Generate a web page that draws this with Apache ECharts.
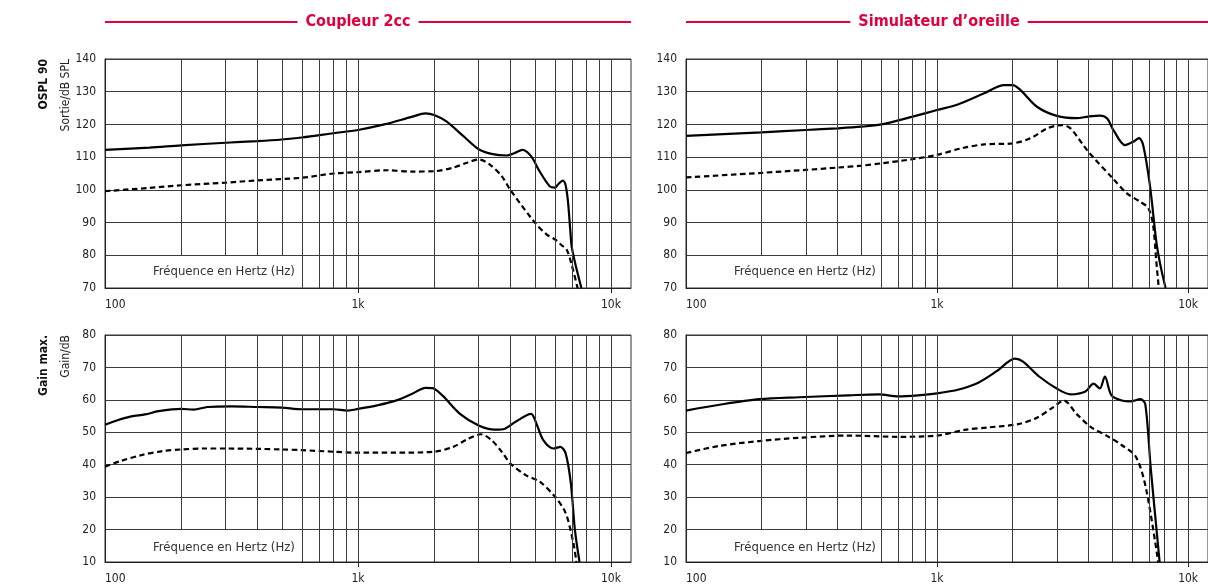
<!DOCTYPE html>
<html>
<head>
<meta charset="utf-8">
<script src="https://cdn.jsdelivr.net/npm/echarts@6/dist/echarts.min.js"></script>
<style>
html, body { margin: 0; padding: 0; background: #fff; }
#chart { width: 1208px; height: 585px; }
</style>
</head>
<body>
<div id="chart"></div>
<script>
// axis ticks / labels
var xTicks = [100, 1000, 10000];
var xTickLabels = ['100', '1k', '10k'];
var gridFreqs = [600, 700, 800, 900, 1000, 2000, 3000, 4000, 5000, 6000, 7000, 8000, 9000, 10000];
var shortGridFreqs = [200, 300, 400, 500];   // these stop above the bottom row
var osplRange = [70, 140];
var gainRange = [10, 80];
var panelTitles = ['Coupleur 2cc', 'Simulateur d\u2019oreille'];
var rowTitles = ['OSPL 90', 'Gain max.'];
var rowUnits = ['Sortie/dB SPL', 'Gain/dB'];
var freqLabel = 'Fr\u00e9quence en Hertz (Hz)';

// Coupleur 2cc - OSPL 90
var couplerOsplSolidF = [100, 150, 200, 300, 400, 500, 600, 800, 1000, 1270, 1630, 1850, 2000, 2230, 2610, 3000, 3370, 3870, 4150, 4470, 4830, 5220, 5740, 6000, 6200, 6450, 6600, 6750, 6900, 7000, 7300, 7640];
var couplerOsplSolid = [112.2, 112.9, 113.6, 114.4, 114.9, 115.4, 116.0, 117.3, 118.3, 120.0, 122.3, 123.4, 122.9, 121.0, 116.4, 112.4, 111.0, 110.5, 111.2, 112.2, 110.3, 105.7, 101.0, 100.7, 101.8, 102.8, 101.8, 97, 88, 82.5, 76, 70];
var couplerOsplDashF = [100, 150, 200, 300, 400, 600, 800, 1000, 1300, 1630, 2000, 2380, 2700, 3000, 3310, 3700, 4000, 5000, 5560, 6000, 6400, 6680, 7000, 7380];
var couplerOsplDash = [99.6, 100.6, 101.4, 102.2, 102.9, 103.7, 105.0, 105.4, 106.0, 105.6, 105.7, 106.8, 108.3, 109.3, 107.8, 104.2, 100.0, 90.0, 86.4, 84.9, 83.0, 81.8, 77, 70];

// Simulateur d'oreille - OSPL 90
var earOsplSolidF = [100, 200, 300, 400, 500, 600, 800, 1000, 1210, 1540, 1850, 2000, 2150, 2500, 3000, 3600, 4000, 4450, 4750, 5040, 5600, 6040, 6380, 6620, 7040, 7470, 7750, 8130];
var earOsplSolid = [116.5, 117.6, 118.3, 118.8, 119.3, 120.0, 122.4, 124.4, 126.1, 129.5, 132.0, 132.0, 130.5, 125.4, 122.6, 121.9, 122.4, 122.7, 121.9, 118.3, 113.7, 114.7, 115.8, 113.7, 101.5, 84.2, 77.1, 70];
var earOsplDashF = [100, 200, 300, 400, 500, 600, 800, 1000, 1250, 1540, 2000, 2360, 2750, 3150, 3400, 4000, 5000, 5690, 6430, 6940, 7250, 7470, 7640];
var earOsplDash = [103.8, 105.2, 106.1, 106.8, 107.4, 108.1, 109.4, 110.7, 112.7, 113.9, 114.2, 115.8, 118.8, 119.8, 118.8, 111.7, 103.6, 99.0, 96.4, 94.4, 89.3, 78.1, 70];

// Coupleur 2cc - Gain max.
var couplerGainSolidF = [100, 112, 127, 144, 163, 200, 224, 254, 317, 400, 500, 600, 800, 910, 1000, 1190, 1390, 1630, 1850, 1970, 2160, 2530, 3000, 3470, 3810, 4190, 4830, 5070, 5400, 5930, 6310, 6620, 6940, 7200, 7510];
var couplerGainSolid = [52.3, 53.7, 54.9, 55.5, 56.5, 57.2, 57.0, 57.8, 58.0, 57.8, 57.6, 57.1, 57.1, 56.7, 57.2, 58.3, 59.6, 61.8, 63.7, 63.6, 61.3, 55.7, 52.1, 50.8, 51.1, 53.2, 55.7, 52.7, 47.6, 45.0, 45.5, 43.5, 34.3, 20, 10];
var couplerGainDashF = [100, 116, 140, 169, 200, 246, 300, 400, 500, 600, 800, 1000, 1390, 2000, 2380, 2700, 3060, 3370, 3700, 4000, 4600, 5220, 6000, 6620, 7100, 7300];
var couplerGainDash = [39.4, 41.2, 43.0, 44.2, 44.7, 45.0, 45.0, 44.9, 44.7, 44.5, 44.0, 43.7, 43.7, 44.0, 45.5, 47.8, 49.4, 47.6, 44.0, 40.4, 36.8, 34.8, 30.2, 25.1, 15.9, 10];

// Simulateur d'oreille - Gain max.
var earGainSolidF = [100, 136, 196, 282, 445, 585, 700, 840, 1000, 1220, 1460, 1740, 2040, 2200, 2550, 3040, 3400, 3900, 4200, 4450, 4660, 4950, 5450, 5900, 6450, 6750, 7100, 7700];
var earGainSolid = [56.7, 58.5, 60.2, 60.8, 61.4, 61.7, 61.1, 61.4, 62.0, 63.2, 65.3, 69.0, 72.7, 71.8, 67.2, 63.2, 61.7, 62.6, 65.0, 63.5, 67.2, 61.4, 59.8, 59.5, 60.2, 58.7, 38.8, 10];
var earGainDashF = [100, 136, 196, 282, 445, 700, 1000, 1300, 1600, 2100, 2500, 2900, 3200, 3600, 4100, 4750, 5450, 6200, 6800, 7600];
var earGainDash = [43.6, 45.8, 47.3, 48.3, 49.0, 48.6, 49.0, 50.8, 51.5, 52.5, 54.5, 57.7, 59.8, 55.6, 51.6, 48.9, 46.0, 42.4, 32.6, 10];

var FONT = '"Liberation Sans Narrow", "DejaVu Sans Condensed", "Open Sans", sans-serif';
var RED = '#e2003c';
var GRID_COLOR = '#3c3c3c';

function pairs(fs, vs) {
    return fs.map(function (f, i) { return [f, vs[i]]; });
}

var panels = [
    { left: 105, top: 59, range: osplRange, solid: pairs(couplerOsplSolidF, couplerOsplSolid), dash: pairs(couplerOsplDashF, couplerOsplDash) },
    { left: 686, top: 59, range: osplRange, solid: pairs(earOsplSolidF, earOsplSolid), dash: pairs(earOsplDashF, earOsplDash) },
    { left: 105, top: 335, range: gainRange, solid: pairs(couplerGainSolidF, couplerGainSolid), dash: pairs(couplerGainDashF, couplerGainDash) },
    { left: 686, top: 335, range: gainRange, solid: pairs(earGainSolidF, earGainSolid), dash: pairs(earGainDashF, earGainDash) }
];
var PW = 526, PH = 229;

var grids = [], xAxes = [], yAxes = [], series = [], graphics = [];

panels.forEach(function (p, i) {
    grids.push({ left: p.left, top: p.top, width: PW, height: PH, show: true, borderColor: '#333', borderWidth: 1, backgroundColor: 'transparent' });
    xAxes.push({
        type: 'log', logBase: 10, min: 100, max: 12000, gridIndex: i,
        axisLine: { show: true, lineStyle: { color: '#222', width: 1 } },
        axisTick: { show: true, customValues: [1000, 10000], length: 5, lineStyle: { color: '#222' } },
        axisLabel: {
            customValues: xTicks, margin: 11, fontSize: 12, color: '#222', fontFamily: FONT,
            alignMinLabel: 'left',
            formatter: function (v) { var k = xTicks.indexOf(v); return k >= 0 ? xTickLabels[k] : ''; }
        },
        splitLine: { show: false }
    });
    yAxes.push({
        type: 'value', min: p.range[0], max: p.range[1], interval: 10, gridIndex: i,
        axisLine: { show: true, lineStyle: { color: '#222', width: 1 } },
        axisTick: { show: false },
        axisLabel: { margin: 9, fontSize: 12, color: '#222', fontFamily: FONT },
        splitLine: { show: true, lineStyle: { color: GRID_COLOR, width: 1 } }
    });

    var lines = gridFreqs.map(function (f) { return { xAxis: f }; });
    shortGridFreqs.forEach(function (f) {
        lines.push([{ coord: [f, p.range[0] + 10] }, { coord: [f, p.range[1]] }]);
    });
    series.push({
        type: 'line', xAxisIndex: i, yAxisIndex: i, data: [], z: 1, silent: true,
        markLine: {
            silent: true, symbol: ['none', 'none'], label: { show: false },
            lineStyle: { color: GRID_COLOR, width: 1, type: 'solid' },
            emphasis: { disabled: true },
            data: lines
        }
    });
    series.push({
        type: 'line', xAxisIndex: i, yAxisIndex: i, data: p.dash, showSymbol: false, smooth: 0.3, z: 3,
        lineStyle: { color: '#000', width: 2.2, type: [5.5, 3.5] }
    });
    series.push({
        type: 'line', xAxisIndex: i, yAxisIndex: i, data: p.solid, showSymbol: false, smooth: 0.3, z: 4,
        lineStyle: { color: '#000', width: 2.2 }
    });

    graphics.push({
        type: 'text', left: p.left + 48, top: p.top + PH - 23, z: 5,
        style: { text: freqLabel, fill: '#333', font: '13px ' + FONT }
    });
});

// panel headings with red rules
[105, 686].forEach(function (x, i) {
    graphics.push({ type: 'rect', shape: { x: x, y: 21, width: PW, height: 2 }, style: { fill: RED } });
    graphics.push({
        type: 'text', x: x + 253, y: 22, z: 10,
        style: {
            text: panelTitles[i], fill: RED, font: 'bold 16px ' + FONT,
            align: 'center', verticalAlign: 'middle', backgroundColor: '#fff', padding: [0, 8]
        }
    });
});

// row titles (rotated)
[59, 335].forEach(function (y, i) {
    graphics.push({
        type: 'text', x: 44, y: y, rotation: Math.PI / 2,
        style: { text: rowTitles[i], fill: '#111', font: 'bold 12px ' + FONT, align: 'right', verticalAlign: 'middle' }
    });
    graphics.push({
        type: 'text', x: 66, y: y, rotation: Math.PI / 2,
        style: { text: rowUnits[i], fill: '#222', font: '12px ' + FONT, align: 'right', verticalAlign: 'middle' }
    });
});

var chart = echarts.init(document.getElementById('chart'), null, { renderer: 'canvas' });
chart.setOption({
    animation: false,
    backgroundColor: '#fff',
    grid: grids,
    xAxis: xAxes,
    yAxis: yAxes,
    series: series,
    graphic: graphics
});
</script>
</body>
</html>
